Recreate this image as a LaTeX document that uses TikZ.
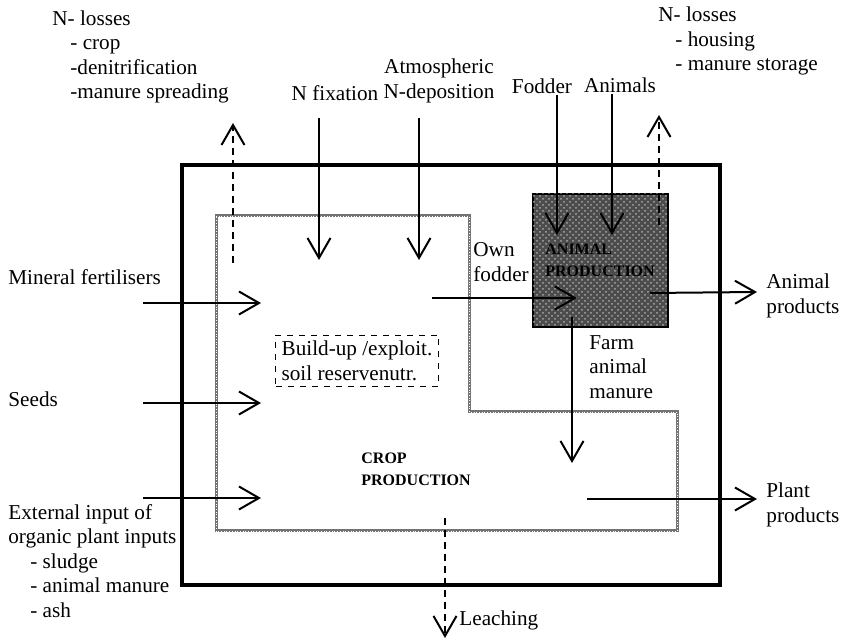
\documentclass[tikz,border=0pt]{standalone}
\usepackage{fontspec}
\setmainfont{Liberation Serif}
\usetikzlibrary{arrows.meta,patterns}
\newcommand{\listindent}[1]{\hspace*{#1}}

\begin{document}
\begin{tikzpicture}[x=0.5pt,y=-0.5pt,
    flow/.style={line width=1pt,-{Straight Barb[length=10pt,width=11.5pt]}},
    lossflow/.style={flow,dash pattern=on 3.5pt off 2.5pt},
    plaintext/.style={inner sep=0pt,align=left,font=\fontsize{10.6}{12.2}\selectfont},
    boldtext/.style={inner sep=0pt,align=left,font=\fontsize{8}{11}\selectfont\bfseries}]

\useasboundingbox (0,0) rectangle (842,640);

% farm and its two production parts
\draw[line width=1.75pt] (182,165) rectangle (720,585);
\draw[black!55,line width=1.5pt,postaction={draw=white,line width=0.35pt,dash pattern=on 0.35pt off 1pt}]
        (216,216) -- (469,216) -- (469,412) -- (677,412) -- (677,531) -- (216,531) -- cycle;
\draw[line width=0.6pt,fill=black!70,postaction={pattern=crosshatch dots,pattern color=white!65!black}]
        (533,194) rectangle (668,327);

\node[boldtext,anchor=west] (cropProd) at (361,469) {CROP\\PRODUCTION};
\node[boldtext,anchor=west] (animalProd) at (545,260) {ANIMAL\\PRODUCTION};
\node[plaintext,draw,dashed,line width=0.5pt,inner sep=3pt] (soilReserve) at (357,361)
        {Build-up /exploit.\\soil reservenutr.};

% texts round the farm
\node[plaintext,anchor=west] (lossesCrop) at (52,57)
        {N- losses\\\listindent{9pt}- crop\\\listindent{9pt}-denitrification\\\listindent{9pt}-manure spreading};
\node[plaintext,anchor=west] (lossesAnimal) at (658,41)
        {N- losses\\\listindent{8.5pt}- housing\\\listindent{8.5pt}- manure storage};
\node[plaintext,align=center] (atmDeposition) at (439,81) {Atmospheric\\N-deposition};
\node[plaintext] (nFixation) at (335,93) {N fixation};
\node[plaintext] (fodder) at (542,86) {Fodder};
\node[plaintext] (animals) at (620,85) {Animals};
\node[plaintext,anchor=west] (mineral) at (8,277) {Mineral fertilisers};
\node[plaintext,anchor=west] (seeds) at (8,399) {Seeds};
\node[plaintext,anchor=west] (external) at (8,561)
        {External input of\\organic plant inputs\\\listindent{11pt}- sludge\\\listindent{11pt}- animal manure\\\listindent{11pt}- ash};
\node[plaintext,anchor=west] (ownFodder) at (473,262) {Own\\fodder};
\node[plaintext,anchor=west] (farmManure) at (589,367) {Farm\\animal\\manure};
\node[plaintext,anchor=west] (animalProducts) at (766,296) {Animal\\products};
\node[plaintext,anchor=west] (plantProducts) at (766,505) {Plant\\products};
\node[plaintext,anchor=west] (leaching) at (459,620) {Leaching};

% arrow ends
\coordinate (lossCropFrom) at (233,263);   \coordinate (lossCropTo) at (233,123);
\coordinate (lossAnimalFrom) at (659,225); \coordinate (lossAnimalTo) at (659,115);
\coordinate (nFixFrom) at (319,118);       \coordinate (nFixTo) at (319,260);
\coordinate (atmFrom) at (419,118);        \coordinate (atmTo) at (419,260);
\coordinate (fodderFrom) at (557,95);      \coordinate (fodderTo) at (557,235);
\coordinate (animalsFrom) at (612,94);     \coordinate (animalsTo) at (612,235);
\coordinate (mineralFrom) at (143,303);    \coordinate (mineralTo) at (261,303);
\coordinate (seedsFrom) at (143,403);      \coordinate (seedsTo) at (261,403);
\coordinate (externalFrom) at (143,498);   \coordinate (externalTo) at (261,498);
\coordinate (ownFodderFrom) at (432,298);  \coordinate (ownFodderTo) at (577,298);
\coordinate (animalOutFrom) at (650,293);  \coordinate (animalOutTo) at (757,292);
\coordinate (manureFrom) at (572,317);     \coordinate (manureTo) at (572,463);
\coordinate (plantOutFrom) at (587,499);   \coordinate (plantOutTo) at (757,499);
\coordinate (leachFrom) at (445,518);      \coordinate (leachTo) at (445,638);

\draw[lossflow] (lossCropFrom) -- (lossCropTo);
\draw[lossflow] (lossAnimalFrom) -- (lossAnimalTo);
\draw[lossflow] (leachFrom) -- (leachTo);
\draw[flow] (nFixFrom) -- (nFixTo);
\draw[flow] (atmFrom) -- (atmTo);
\draw[flow] (fodderFrom) -- (fodderTo);
\draw[flow] (animalsFrom) -- (animalsTo);
\draw[flow] (mineralFrom) -- (mineralTo);
\draw[flow] (seedsFrom) -- (seedsTo);
\draw[flow] (externalFrom) -- (externalTo);
\draw[flow] (ownFodderFrom) -- (ownFodderTo);
\draw[flow] (animalOutFrom) -- (animalOutTo);
\draw[flow] (manureFrom) -- (manureTo);
\draw[flow] (plantOutFrom) -- (plantOutTo);

\end{tikzpicture}
\end{document}
